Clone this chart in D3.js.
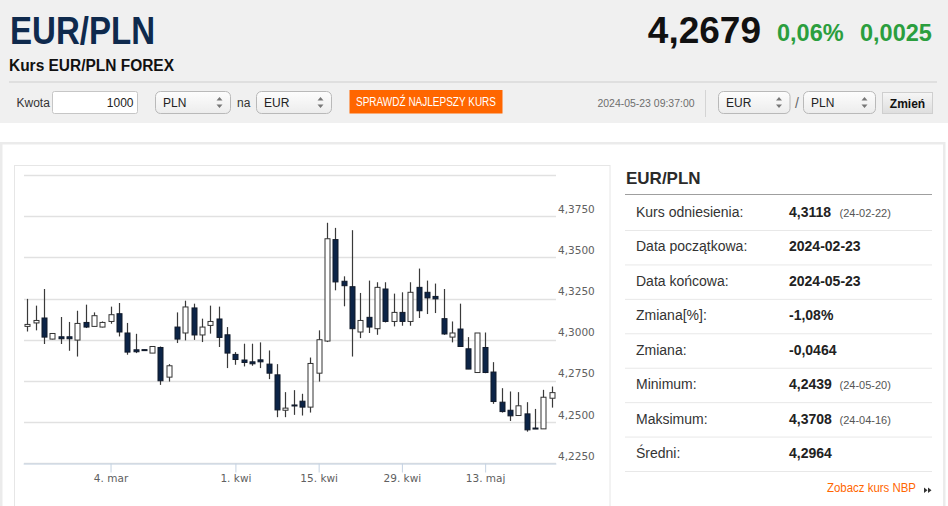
<!DOCTYPE html>
<html>
<head>
<meta charset="utf-8">
<script src="https://cdn.jsdelivr.net/npm/d3@7"></script>
<style>
html, body { margin: 0; padding: 0; background: #fff; }
svg { display: block; }
text { font-family: "Liberation Sans", Arial, sans-serif; }
.axis text { font-family: "DejaVu Sans", sans-serif; font-size: 10.5px; fill: #606060; }
</style>
</head>
<body>
<div id="page"></div>
<script>
// EUR/PLN daily candles
var open  = [4.3081,4.3102,4.3132,4.3004,4.3018,4.3018,4.2998,4.3105,4.3081,4.3077,
             4.3111,4.3158,4.3041,4.2939,4.2940,4.2919,4.2953,4.2773,4.3077,4.3041,
             4.3193,4.3029,4.3087,4.3126,4.3030,4.2911,4.2877,4.2866,4.2878,4.2852,
             4.2787,4.2572,4.2604,4.2627,4.2591,4.2797,4.2992,4.3608,4.3355,4.3322,
             4.3047,4.3136,4.3067,4.3308,4.3111,4.3166,4.3111,4.3318,4.3288,4.3263,
             4.3128,4.3016,4.3065,4.2945,4.2801,4.2953,4.2804,4.2621,4.2572,4.2540,
             4.2550,4.2464,4.2459,4.2645];
var high  = [4.3248,4.3207,4.3308,4.3040,4.3138,4.3108,4.3176,4.3213,4.3166,4.3111,
             4.3201,4.3223,4.3102,4.3036,4.2940,4.2959,4.2959,4.2852,4.3166,4.3237,
             4.3219,4.3128,4.3207,4.3201,4.3077,4.2925,4.2976,4.2976,4.2984,4.2935,
             4.2852,4.2682,4.2694,4.2672,4.2892,4.3057,4.3710,4.3679,4.3385,4.3665,
             4.3284,4.3359,4.3349,4.3349,4.3280,4.3288,4.3349,4.3432,4.3359,4.3341,
             4.3308,4.3111,4.3219,4.3016,4.3041,4.3044,4.2864,4.2706,4.2686,4.2682,
             4.2621,4.2580,4.2696,4.2716];
var low   = [4.3050,4.3057,4.2974,4.3002,4.2974,4.2933,4.2898,4.3071,4.3081,4.3075,
             4.3097,4.3020,4.2909,4.2919,4.2938,4.2919,4.2726,4.2746,4.2980,4.2996,
             4.2999,4.2986,4.3037,4.2956,4.2828,4.2848,4.2838,4.2842,4.2828,4.2761,
             4.2530,4.2530,4.2544,4.2540,4.2558,4.2746,4.2986,4.3300,4.3203,4.2898,
             4.3010,4.3041,4.3030,4.3105,4.3081,4.3085,4.3085,4.3132,4.3156,4.3162,
             4.3030,4.2984,4.2959,4.2822,4.2801,4.2797,4.2611,4.2558,4.2507,4.2538,
             4.2442,4.2463,4.2459,4.2588];
var close = [4.3093,4.3117,4.3016,4.3038,4.3006,4.3006,4.3099,4.3077,4.3146,4.3105,
             4.3152,4.3047,4.2925,4.2927,4.2938,4.2959,4.2751,4.2842,4.3004,4.3199,
             4.3029,4.3077,4.3111,4.3014,4.2919,4.2880,4.2862,4.2854,4.2866,4.2797,
             4.2574,4.2585,4.2602,4.2591,4.2856,4.3000,4.3613,4.3351,4.3328,4.3067,
             4.3117,4.3077,4.3318,4.3111,4.3166,4.3111,4.3288,4.3176,4.3254,4.3248,
             4.3035,4.3041,4.2959,4.2822,4.3041,4.2801,4.2625,4.2564,4.2538,4.2599,
             4.2453,4.2463,4.2651,4.2679];

var tickIdx    = [10, 25, 35, 45, 55];
var tickLabels = ["4. mar", "1. kwi", "15. kwi", "29. kwi", "13. maj"];
var yTicks     = [4.225, 4.25, 4.275, 4.3, 4.325, 4.35, 4.375, 4.4];

var statLabels = ["Kurs odniesienia:", "Data początkowa:", "Data końcowa:", "Zmiana[%]:",
                  "Zmiana:", "Minimum:", "Maksimum:", "Średni:"];
var statValues = ["4,3118", "2024-02-23", "2024-05-23", "-1,08%", "-0,0464", "4,2439", "4,3708", "4,2964"];
var statDates  = ["(24-02-22)", "", "", "", "", "(24-05-20)", "(24-04-16)", ""];

var pair = "EUR/PLN", lastPrice = "4,2679", changePct = "0,06%", change = "0,0025";

var svg = d3.select("#page").append("svg")
    .attr("width", 948)
    .attr("height", 506);

var defs = svg.append("defs");
var g1 = defs.append("linearGradient").attr("id", "selGrad").attr("x1", 0).attr("y1", 0).attr("x2", 0).attr("y2", 1);
g1.append("stop").attr("offset", "0%").attr("stop-color", "#fdfdfd");
g1.append("stop").attr("offset", "100%").attr("stop-color", "#ececec");
var g2 = defs.append("linearGradient").attr("id", "btnGrad").attr("x1", 0).attr("y1", 0).attr("x2", 0).attr("y2", 1);
g2.append("stop").attr("offset", "0%").attr("stop-color", "#f6f6f6");
g2.append("stop").attr("offset", "100%").attr("stop-color", "#dedede");

function txt(parent, x, y, s, size, weight, fill, anchor) {
  return parent.append("text")
    .attr("x", x).attr("y", y)
    .attr("font-size", size)
    .attr("font-weight", weight || "normal")
    .attr("fill", fill || "#333")
    .attr("text-anchor", anchor || "start")
    .text(s);
}

// header
var head = svg.append("g");
head.append("rect").attr("width", 948).attr("height", 123).attr("fill", "#f0f0f0");
txt(head, 10, 43.5, pair, 38, 600, "#0f2a4d")
  .attr("font-family", "'Open Sans', sans-serif")
  .attr("textLength", 145).attr("lengthAdjust", "spacingAndGlyphs");
txt(head, 9, 71, "Kurs EUR/PLN FOREX", 16, "bold", "#111")
  .attr("textLength", 165).attr("lengthAdjust", "spacingAndGlyphs");
txt(head, 761, 42.7, lastPrice, 37, "bold", "#111", "end");
txt(head, 777, 41, changePct, 23.5, "bold", "#2b9e3e");
txt(head, 860, 41, change, 23.5, "bold", "#2b9e3e");
head.append("line").attr("x1", 9).attr("x2", 937).attr("y1", 82).attr("y2", 82)
  .attr("stroke", "#dadada").attr("stroke-width", 1.5);

// form row
var form = svg.append("g");
txt(form, 16.5, 107, "Kwota", 12, "normal", "#333");
form.append("rect").attr("x", 52.5).attr("y", 91.5).attr("width", 85).attr("height", 22).attr("rx", 2)
  .attr("fill", "#fff").attr("stroke", "#c6c6c6");
txt(form, 133.5, 107, "1000", 12, "normal", "#222", "end");

function selectBox(x, w, label) {
  var s = form.append("g").attr("transform", "translate(" + x + ",91.5)");
  s.append("rect").attr("width", w).attr("height", 22).attr("rx", 5)
    .attr("fill", "url(#selGrad)").attr("stroke", "#b9b9b9");
  txt(s, 7.5, 15, label, 12, "normal", "#222");
  s.append("path").attr("d", "M" + (w - 14) + ",9 l3,-3.5 l3,3.5 Z M" + (w - 14) + ",13 l3,3.5 l3,-3.5 Z")
    .attr("fill", "#777");
}
selectBox(155.5, 75, "PLN");
txt(form, 237, 106.5, "na", 12, "normal", "#333");
selectBox(256.5, 75, "EUR");

form.append("rect").attr("x", 349.5).attr("y", 90).attr("width", 153).attr("height", 23.5).attr("fill", "#ff6600");
txt(form, 356, 106, "SPRAWDŹ NAJLEPSZY KURS", 12, "normal", "#fff")
  .attr("textLength", 140).attr("lengthAdjust", "spacingAndGlyphs");

txt(form, 597.5, 107.3, "2024-05-23 09:37:00", 10.5, "normal", "#6e6e6e")
  .attr("textLength", 97).attr("lengthAdjust", "spacingAndGlyphs");
form.append("line").attr("x1", 705.5).attr("x2", 705.5).attr("y1", 90).attr("y2", 117)
  .attr("stroke", "#d4d4d4");
selectBox(718.5, 71.5, "EUR");
txt(form, 797, 107.5, "/", 14, "normal", "#666", "middle");
selectBox(803.5, 72, "PLN");
form.append("rect").attr("x", 882.5).attr("y", 92.5).attr("width", 50).attr("height", 21)
  .attr("fill", "url(#btnGrad)").attr("stroke", "#cfcfcf");
txt(form, 907.5, 107.5, "Zmień", 12, "bold", "#111", "middle");

// white card and chart frame
svg.append("rect").attr("x", 1.25).attr("y", 143.25).attr("width", 943).attr("height", 420)
  .attr("fill", "#fff").attr("stroke", "#ebebeb").attr("stroke-width", 2.5);
svg.append("rect").attr("x", 14.5).attr("y", 165.5).attr("width", 595.5).attr("height", 400)
  .attr("fill", "#fff").attr("stroke", "#e6e6e6");

// chart
var x = d3.scalePoint()
    .domain(d3.range(open.length))
    .range([23.14, 555.9])
    .padding(0.5);
var y = d3.scaleLinear()
    .domain([4.225, 4.4])
    .range([463.3, 175]);
var plFmt = d3.formatLocale({decimal: ",", thousands: " ", grouping: [3], currency: ["", " zł"]}).format(".4f");

var chart = svg.append("g");
chart.selectAll("line.grid")
  .data(yTicks)
  .enter().append("line")
  .attr("class", "grid")
  .attr("x1", 24).attr("x2", 556)
  .attr("y1", function(d) { return Math.round(y(d)) + 0.5; })
  .attr("y2", function(d) { return Math.round(y(d)) + 0.5; })
  .attr("stroke", "#e1e1e1")
  .attr("stroke-width", 1.3);

chart.append("g")
  .attr("class", "axis")
  .selectAll("text")
  .data(yTicks.slice(0, -1))
  .enter().append("text")
  .attr("x", 558)
  .attr("y", function(d) { return y(d) - 3.5; })
  .text(function(d) { return plFmt(d); });

var xAxis = chart.append("g")
  .attr("class", "axis")
  .attr("transform", "translate(0," + (Math.round(y(4.225)) + 0.5) + ")")
  .call(d3.axisBottom(x)
        .tickValues(tickIdx)
        .tickFormat(function(d, i) { return tickLabels[i]; })
        .tickSize(9)
        .tickSizeOuter(0)
        .tickPadding(2));
xAxis.select(".domain").attr("stroke", "#c4d2e2");
xAxis.selectAll(".tick line").attr("stroke", "#c4d2e2");

var idx = d3.range(open.length);
var cx = function(i) { return Math.round(x(i)) + 0.5; };

chart.selectAll("line.wick")
  .data(idx)
  .enter().append("line")
  .attr("class", "wick")
  .attr("x1", cx).attr("x2", cx)
  .attr("y1", function(i) { return y(high[i]); })
  .attr("y2", function(i) { return y(low[i]); })
  .attr("stroke", "#3a3a3a")
  .attr("stroke-width", 1.2);

chart.selectAll("rect.body")
  .data(idx)
  .enter().append("rect")
  .attr("class", "body")
  .attr("x", function(i) { return cx(i) - 2.5; })
  .attr("width", 5)
  .attr("y", function(i) { return y(Math.max(open[i], close[i])); })
  .attr("height", function(i) { return Math.max(1, Math.abs(y(open[i]) - y(close[i]))); })
  .attr("fill", function(i) { return close[i] > open[i] ? "#fff" : "#0c2447"; })
  .attr("stroke", function(i) { return close[i] > open[i] ? "#333" : "#111a2a"; })
  .attr("stroke-width", 1);

// side table
var side = svg.append("g");
txt(side, 626, 184.3, pair, 17, "bold", "#2a2a2a");
side.append("line").attr("x1", 625).attr("x2", 932).attr("y1", 194.5).attr("y2", 194.5)
  .attr("stroke", "#9f9f9f").attr("stroke-width", 1.2);

var rows = side.selectAll("g.row")
  .data(statLabels)
  .enter().append("g")
  .attr("class", "row")
  .attr("transform", function(d, i) { return "translate(0," + (i * 34.43) + ")"; });
rows.append("line")
  .attr("x1", 625).attr("x2", 932).attr("y1", 230.5).attr("y2", 230.5)
  .attr("stroke", "#e8e8e8");
rows.append("text")
  .attr("x", 636).attr("y", 217)
  .attr("font-size", 14).attr("fill", "#333")
  .text(function(d) { return d; });
rows.append("text")
  .attr("x", 789).attr("y", 217)
  .attr("font-size", 14).attr("font-weight", "bold").attr("fill", "#222")
  .text(function(d, i) { return statValues[i]; });
rows.append("text")
  .attr("x", 839.5).attr("y", 217)
  .attr("font-size", 11).attr("fill", "#555")
  .text(function(d, i) { return statDates[i]; });

txt(side, 827, 492.3, "Zobacz kurs NBP", 12, "normal", "#ff6600")
  .attr("textLength", 89).attr("lengthAdjust", "spacingAndGlyphs");
side.append("path")
  .attr("transform", "translate(924,487.5)")
  .attr("d", "M0,0 L3.5,2.75 L0,5.5 Z M4,0 L7.5,2.75 L4,5.5 Z")
  .attr("fill", "#333");
</script>
</body>
</html>
